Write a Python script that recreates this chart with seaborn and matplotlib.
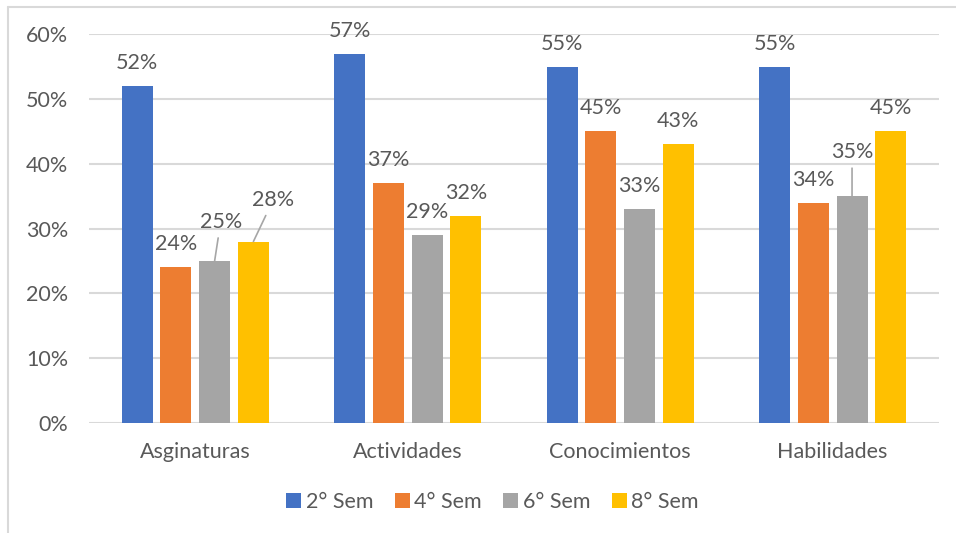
import matplotlib
matplotlib.use("Agg")
import matplotlib.pyplot as plt
from matplotlib.lines import Line2D
from matplotlib.patches import Patch
from matplotlib.ticker import PercentFormatter
import pandas as pd
import seaborn as sns

# Data
categories = ["Asginaturas", "Actividades", "Conocimientos", "Habilidades"]
semesters = ["2° Sem", "4° Sem", "6° Sem", "8° Sem"]
sem2 = [0.52, 0.57, 0.55, 0.55]
sem4 = [0.24, 0.37, 0.45, 0.34]
sem6 = [0.25, 0.29, 0.33, 0.35]
sem8 = [0.28, 0.32, 0.43, 0.45]

colors = ["#4472C4", "#ED7D31", "#A5A5A5", "#FFC000"]

rows = []
for sem, vals in zip(semesters, [sem2, sem4, sem6, sem8]):
    for cat, v in zip(categories, vals):
        rows.append({"categoria": cat, "semestre": sem, "valor": v})
df = pd.DataFrame(rows)

sns.set_theme(style="white")
plt.rcParams["font.family"] = ["Lato", "DejaVu Sans"]
text_color = "#595959"
grid_color = "#D9D9D9"
fs = 15.5

fig = plt.figure(figsize=(9.56, 5.33), dpi=100)
ax = fig.add_axes([0.0931, 0.2064, 0.889, 0.7296])

sns.barplot(data=df, x="categoria", y="valor", hue="semestre",
            order=categories, hue_order=semesters, palette=colors,
            width=0.73, gap=0.2, saturation=1, legend=False, ax=ax,
            linewidth=0)

ax.set_ylim(0, 0.6)
ax.set_xlim(-0.5, 3.5)
ax.set_yticks([0, 0.1, 0.2, 0.3, 0.4, 0.5, 0.6])
ax.yaxis.set_major_formatter(PercentFormatter(1.0, decimals=0))
ax.grid(axis="y", color=grid_color, linewidth=1.5)
ax.set_axisbelow(True)
for s in ax.spines.values():
    s.set_visible(False)
ax.tick_params(axis="y", length=0, pad=15, labelsize=fs, labelcolor=text_color)
ax.tick_params(axis="x", length=0, pad=14, labelsize=fs, labelcolor=text_color)
ax.set_xlabel("")
ax.set_ylabel("")

# Label placement: pixel offsets of each label from its bar top (per series, per category)
default_off = (0, 23)
custom_off = {(2, 0): (6, 39), (3, 0): (20, 42), (2, 3): (0, 44)}

for si, cont in enumerate(ax.containers):
    for ci, bar in enumerate(cont):
        h = bar.get_height()
        xc = bar.get_x() + bar.get_width() / 2
        dx, dy = custom_off.get((si, ci), default_off)
        ax.annotate(f"{h * 100:.0f}%", xy=(xc, h), xytext=(dx, dy),
                    textcoords="offset pixels", ha="center", va="center",
                    fontsize=fs, color=text_color, annotation_clip=False)
        if (si, ci) in custom_off:
            # leader line from the bar top to just under the label
            frac = (dy - 16) / dy
            ax.annotate("", xy=(xc, h), xytext=(dx * frac, dy - 16),
                        textcoords="offset pixels",
                        arrowprops=dict(arrowstyle="-", color="#A6A6A6",
                                        linewidth=1.2, shrinkA=0, shrinkB=0))

handles = [Patch(facecolor=c, edgecolor="none") for c in colors]
fig.legend(handles, semesters, loc="center", bbox_to_anchor=(0.515, 0.058),
           ncol=4, frameon=False, fontsize=fs, labelcolor=text_color,
           handlelength=0.7, handleheight=0.75, handletextpad=0.2,
           columnspacing=1.0)

# chart frame (top and left edges)
fig.add_artist(Line2D([0.0084, 1.0], [1 - 7 / 533, 1 - 7 / 533],
                      transform=fig.transFigure, color=grid_color, linewidth=1.5))
fig.add_artist(Line2D([0.0084, 0.0084], [0.0, 1 - 7 / 533],
                      transform=fig.transFigure, color=grid_color, linewidth=1.5))

fig.savefig("out.png", dpi=100, facecolor="white")
